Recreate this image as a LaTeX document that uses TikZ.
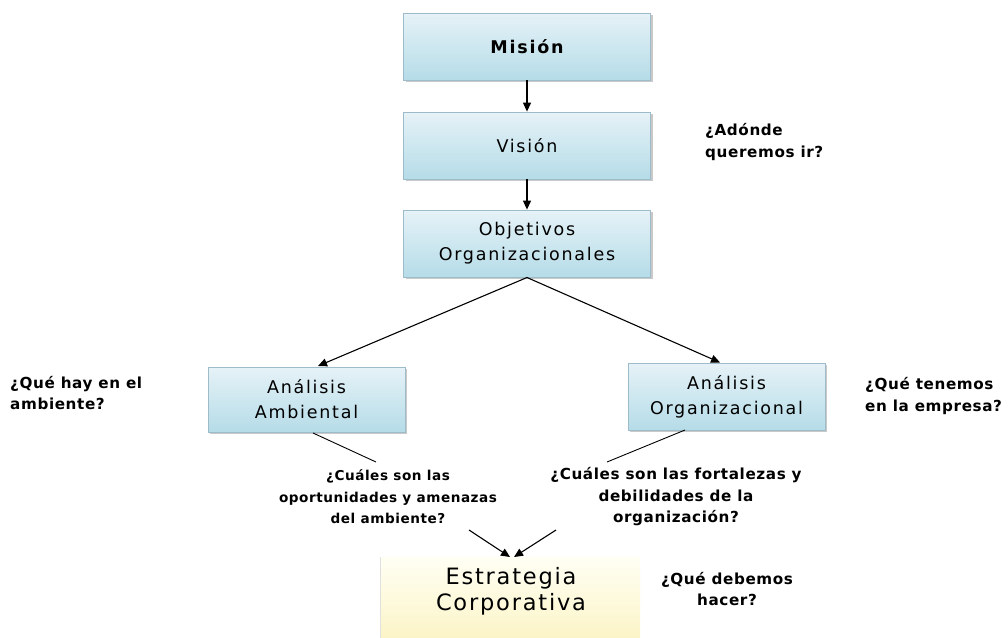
\documentclass[tikz,border=0pt]{standalone}
\usepackage{fontspec}
\setmainfont{DejaVu Sans}
\usetikzlibrary{shadows,arrows.meta}
\definecolor{boxtop}{HTML}{E6F2F7}
\definecolor{boxbot}{HTML}{B5DCE8}
\definecolor{boxedge}{HTML}{9DBBC9}
\definecolor{ytop}{HTML}{FFFFF4}
\definecolor{ybot}{HTML}{FBF3C2}
\begin{document}
\begin{tikzpicture}[x=1pt,y=-1pt,
  bluebox/.style={draw=boxedge, line width=0.8pt, top color=boxtop, bottom color=boxbot,
    minimum width=#1, inner sep=0pt, align=center,
    drop shadow={shadow xshift=2pt, shadow yshift=-2pt, fill=black!35, opacity=0.6},
    font=\fontsize{17.5}{25}\selectfont\addfontfeatures{LetterSpace=10}},
  bluebox/.default=247pt,
  qtext/.style={font=\fontsize{15.2}{21.5}\selectfont\bfseries\addfontfeatures{LetterSpace=4}, inner sep=0pt},
  arr/.style={-{Triangle[length=9pt,width=8pt]}, line width=1.1pt},
  ln/.style={line width=0.9pt}
]
\useasboundingbox (0,0) rectangle (1008,637);
\fill[white] (0,0) rectangle (1008,637);

\node[bluebox, minimum height=67pt] (mision) at (527,46.5) {\bfseries Misión};
\node[bluebox, minimum height=67pt] (vision) at (527,145.5) {Visión};
\node[bluebox, minimum height=67pt] (obj) at (527,243.5) {Objetivos\\Organizacionales};
\node[bluebox=197pt, minimum height=65pt] (amb) at (306.5,399.5) {Análisis\\Ambiental};
\node[bluebox=197pt, minimum height=67pt] (org) at (726.5,396.5) {Análisis\\Organizacional};

\node[top color=ytop, bottom color=ybot, minimum width=260pt, minimum height=90pt, inner sep=0pt,
  anchor=north] (est) at (510,557) {};
\draw[black!12, line width=0.6pt] (est.north west) -- (est.south west);
\node[align=center, font=\fontsize{22.5}{26}\selectfont\addfontfeatures{LetterSpace=8}] (esttext) at (511,591) {Estrategia\\Corporativa};

\node[qtext, align=left, anchor=west] (q1) at (705,142) {¿Adónde\\queremos ir?};
\node[qtext, align=left, anchor=west] (q2) at (10,393) {¿Qué hay en el\\ambiente?};
\node[qtext, align=left, anchor=west] (q3) at (865,396) {¿Qué tenemos\\en la empresa?};
\node[qtext, align=center, font=\fontsize{13.6}{21.5}\selectfont\bfseries\addfontfeatures{LetterSpace=4}] (q4) at (388,497) {¿Cuáles son las\\oportunidades y amenazas\\del ambiente?};
\node[qtext, align=center] (q5) at (676,497) {¿Cuáles son las fortalezas y\\debilidades de la\\organización?};
\node[qtext, align=center] (q6) at (727,589) {¿Qué debemos\\hacer?};

\coordinate (split) at (527,277.5);
\draw[arr] (mision.south) -- (vision.north);
\draw[arr] (vision.south) -- (obj.north);
\draw[arr] (split) -- (318,366);
\draw[arr] (split) -- (720,362.5);
\coordinate (a1) at (313,433);
\coordinate (a2) at (376,462);
\draw[ln] (a1) -- (a2);
\coordinate (b1) at (685,430);
\coordinate (b2) at (607,462);
\draw[ln] (b1) -- (b2);
\coordinate (c1) at (469,530);
\coordinate (c2) at (556,530);
\draw[arr] (c1) -- (510,557);
\draw[arr] (c2) -- (514,557);
\end{tikzpicture}
\end{document}
